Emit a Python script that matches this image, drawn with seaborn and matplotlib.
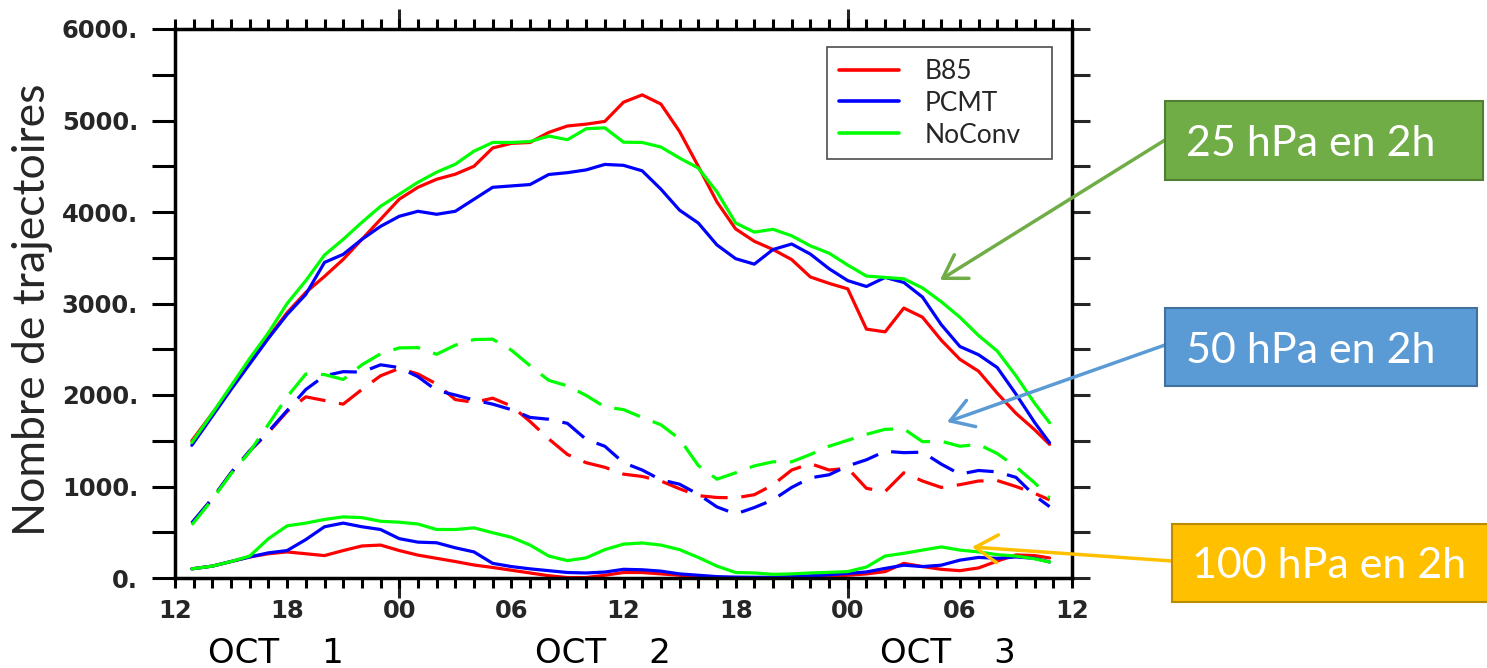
import matplotlib
matplotlib.use("Agg")
import matplotlib.pyplot as plt
import numpy as np
import pandas as pd
import seaborn as sns
from matplotlib.ticker import MultipleLocator, FixedLocator, FuncFormatter, NullLocator
from matplotlib.lines import Line2D
from matplotlib.patches import Rectangle

# ---------------- data (hours after 12 UTC, 1 Oct) ----------------
hours = [0.9, 2, 3, 4, 5, 6, 7, 8, 9, 10, 11, 12, 13, 14, 15, 16, 17, 18, 19, 20,
         21, 22, 23, 24, 25, 26, 27, 28, 29, 30, 31, 32, 33, 34, 35, 36, 37, 38, 39, 40,
         41, 42, 43, 44, 45, 46, 46.8]

# 25 hPa en 2h (solid, upper)
b85_25 = [1500, 1800, 2075, 2350, 2630, 2900, 3121, 3296, 3482, 3701, 3920, 4140, 4270, 4358, 4413, 4500,
          4700, 4750, 4760, 4870, 4940, 4960, 4990, 5200, 5280, 5180, 4880, 4500, 4110, 3815, 3680, 3590,
          3480, 3290, 3220, 3160, 2720, 2690, 2950, 2850, 2600, 2390, 2260, 2020, 1800, 1620, 1460]
pcmt_25 = [1450, 1770, 2060, 2340, 2620, 2880, 3100, 3449, 3537, 3701, 3843, 3953, 4008, 3975, 4008, 4139,
           4270, 4285, 4300, 4410, 4430, 4460, 4520, 4510, 4450, 4250, 4020, 3880, 3640, 3490, 3430, 3590,
           3650, 3540, 3380, 3250, 3186, 3285, 3230, 3070, 2770, 2530, 2440, 2300, 2010, 1700, 1478]
noconv_25 = [1480, 1800, 2100, 2400, 2680, 3000, 3250, 3530, 3701, 3887, 4062, 4194, 4325, 4435, 4522, 4665,
             4760, 4760, 4770, 4830, 4790, 4910, 4920, 4763, 4760, 4710, 4590, 4480, 4220, 3880, 3780, 3811,
             3740, 3630, 3550, 3420, 3300, 3285, 3270, 3170, 3020, 2850, 2650, 2480, 2210, 1910, 1697]

# 50 hPa en 2h (dashed, middle)
b85_50 = [600, 870, 1150, 1390, 1590, 1820, 1980, 1940, 1900, 2060, 2210, 2290, 2230, 2120, 1950, 1920,
          1965, 1880, 1710, 1520, 1350, 1260, 1210, 1135, 1110, 1060, 975, 900, 880, 876, 910, 1018,
          1180, 1250, 1180, 1200, 980, 945, 1150, 1060, 990, 1020, 1060, 1065, 1000, 925, 854]
pcmt_50 = [602, 870, 1150, 1390, 1600, 1830, 2060, 2210, 2255, 2250, 2330, 2300, 2200, 2050, 2000, 1945,
           1900, 1840, 1755, 1735, 1690, 1515, 1440, 1260, 1180, 1073, 1025, 915, 777, 700, 770, 854,
           990, 1095, 1128, 1225, 1292, 1385, 1370, 1375, 1245, 1135, 1175, 1160, 1100, 900, 780]
noconv_50 = [580, 860, 1140, 1380, 1680, 1980, 2230, 2223, 2170, 2330, 2450, 2515, 2518, 2445, 2545, 2606,
             2610, 2490, 2320, 2160, 2100, 1995, 1870, 1840, 1755, 1675, 1520, 1230, 1080, 1150, 1225, 1270,
             1270, 1350, 1440, 1505, 1570, 1625, 1630, 1490, 1495, 1440, 1460, 1360, 1215, 1040, 876]

# 100 hPa en 2h (solid, lower)
b85_100 = [100, 130, 180, 230, 265, 285, 265, 245, 300, 350, 360, 300, 250, 215, 180, 142,
           115, 85, 55, 25, 5, 5, 30, 60, 60, 45, 30, 10, 5, 3, 2, 2,
           2, 5, 15, 30, 45, 70, 160, 125, 95, 80, 110, 185, 252, 245, 219]
pcmt_100 = [100, 130, 180, 230, 275, 300, 420, 560, 600, 560, 530, 430, 392, 385, 330, 285,
            160, 125, 100, 80, 60, 55, 65, 95, 90, 75, 45, 30, 15, 10, 8, 8,
            15, 25, 35, 50, 66, 105, 140, 125, 140, 195, 225, 215, 230, 215, 175]
noconv_100 = [100, 130, 180, 240, 430, 570, 600, 640, 668, 660, 620, 610, 590, 530, 530, 548,
              495, 445, 360, 240, 190, 220, 310, 370, 383, 360, 310, 225, 130, 60, 55, 40,
              45, 55, 62, 70, 120, 240, 270, 305, 340, 305, 285, 255, 240, 210, 175]

models = ["B85", "PCMT", "NoConv"]
levels = ["25 hPa en 2h", "50 hPa en 2h", "100 hPa en 2h"]
series = {
    ("B85", "25 hPa en 2h"): b85_25, ("PCMT", "25 hPa en 2h"): pcmt_25, ("NoConv", "25 hPa en 2h"): noconv_25,
    ("B85", "50 hPa en 2h"): b85_50, ("PCMT", "50 hPa en 2h"): pcmt_50, ("NoConv", "50 hPa en 2h"): noconv_50,
    ("B85", "100 hPa en 2h"): b85_100, ("PCMT", "100 hPa en 2h"): pcmt_100, ("NoConv", "100 hPa en 2h"): noconv_100,
}
xtick_pos = [0, 6, 12, 18, 24, 30, 36, 42, 48]
xtick_labels = ["12", "18", "00", "06", "12", "18", "00", "06", "12"]
day_ticks = [12, 36]
date_labels = [(1.75, "OCT    1"), (19.25, "OCT    2"), (37.7, "OCT    3")]

rows = []
for (m, lv), vals in series.items():
    for h, v in zip(hours, vals):
        rows.append({"hour": h, "count": v, "model": m, "level": lv})
df = pd.DataFrame(rows)

# ---------------- figure ----------------
W, H = 1487, 668
sns.set_theme(style="white")
plt.rcParams["font.family"] = ["DejaVu Sans"]
plt.rcParams["axes.edgecolor"] = "black"

fig = plt.figure(figsize=(W / 100, H / 100), dpi=100)
fig.patch.set_facecolor("white")
ax = fig.add_axes([175 / W, (H - 578) / H, 897 / W, 549 / H])

palette = {"B85": "#ff0000", "PCMT": "#0000ff", "NoConv": "#00ff00"}
dashes = {"25 hPa en 2h": "", "50 hPa en 2h": (8.5, 4.3), "100 hPa en 2h": ""}
sns.lineplot(data=df, x="hour", y="count", hue="model", style="level",
             hue_order=models, style_order=levels, palette=palette, dashes=dashes,
             linewidth=2.3, estimator=None, sort=False, legend=False, ax=ax)

ax.set_xlim(0, 48)
ax.set_ylim(0, 6000)
ax.set_xlabel("")
for sp in ax.spines.values():
    sp.set_linewidth(2.5)
    sp.set_color("black")

ax.xaxis.set_major_locator(FixedLocator(xtick_pos))
ax.set_xticklabels(xtick_labels)
ax.xaxis.set_minor_locator(MultipleLocator(1))
ax.yaxis.set_major_locator(MultipleLocator(1000))
ax.yaxis.set_minor_locator(MultipleLocator(500))
ax.yaxis.set_major_formatter(FuncFormatter(lambda v, p: f"{int(round(v))}."))
ax.tick_params(axis="x", which="both", direction="out", length=7.2, width=2.2,
               top=True, bottom=True, labelsize=17.5, pad=8, color="black")
ax.tick_params(axis="y", which="both", direction="out", length=16.5, width=2.2,
               left=True, right=False, labelsize=17.5, pad=10, color="black")
for lbl in ax.get_xticklabels() + ax.get_yticklabels():
    lbl.set_fontweight("bold")

# right-hand ticks
secy = ax.secondary_yaxis("right")
secy.yaxis.set_major_locator(MultipleLocator(500))
secy.tick_params(axis="y", which="major", direction="out", length=13, width=2.2, labelright=False)
secy.spines["right"].set_visible(False)

# longer ticks at 00 UTC (bottom and top)
for side in ("bottom", "top"):
    sec = ax.secondary_xaxis(side)
    sec.set_xticks(day_ticks, labels=["", ""])
    sec.xaxis.set_minor_locator(NullLocator())
    sec.tick_params(axis="x", which="major", direction="out", length=14.4, width=2.2)
    sec.spines[side].set_visible(False)

# date labels
for xpos, txt in date_labels:
    ax.text(xpos, -0.1548, txt, transform=ax.get_xaxis_transform(), ha="left", va="baseline",
            fontsize=24.5, color="black")

ax.set_ylabel("Nombre de trajectoires", fontsize=32, family="Lato")
ax.yaxis.set_label_coords(-(175 - 33) / 897, (578 - 310) / 549)
ax.yaxis.label.set_va("center")

# legend
handles = [Line2D([], [], color=palette[m], lw=2.6) for m in models]
leg = ax.legend(handles, models, loc="upper left",
                bbox_to_anchor=(827 / W, 1 - 178 / H, 225 / W, 131 / H), bbox_transform=fig.transFigure,
                mode="expand", borderaxespad=0, frameon=True, fancybox=False, framealpha=1,
                edgecolor="#4d4d4d", prop={"family": "Lato", "size": 19},
                handlelength=2.27, handletextpad=0.98, borderpad=0.45, labelspacing=0.26)
leg.get_frame().set_linewidth(1.2)

# annotation boxes and arrows
boxes = [
    ("25 hPa en 2h", (1165, 101, 1483, 180), 1186, 156, "#70AD47", "#507E32", (1165, 140), (940, 280)),
    ("50 hPa en 2h", (1165, 308, 1477, 386), 1186, 363, "#5B9BD5", "#41719C", (1165, 345), (947, 422)),
    ("100 hPa en 2h", (1172, 524, 1500, 602), 1192, 578, "#FFC000", "#BC8C00", (1172, 561), (972, 547)),
]
for txt, (x0, y0, x1, y1), tx, ty, fc, ec, start, tip in boxes:
    ax.annotate("", xy=(tip[0], H - tip[1]), xytext=(start[0], H - start[1]),
                xycoords="figure pixels", textcoords="figure pixels", annotation_clip=False,
                arrowprops=dict(arrowstyle="->,head_length=0.8,head_width=0.5", color=fc,
                                lw=2.5, mutation_scale=20, shrinkA=0, shrinkB=0))
    fig.add_artist(Rectangle((x0 / W, 1 - y1 / H), (x1 - x0) / W, (y1 - y0) / H,
                             transform=fig.transFigure, facecolor=fc, edgecolor=ec, lw=1.5))
    fig.text(tx / W, 1 - ty / H, txt, ha="left", va="baseline", color="white",
             fontsize=31, family="Lato")

fig.savefig("out.png", dpi=100, facecolor="white")
